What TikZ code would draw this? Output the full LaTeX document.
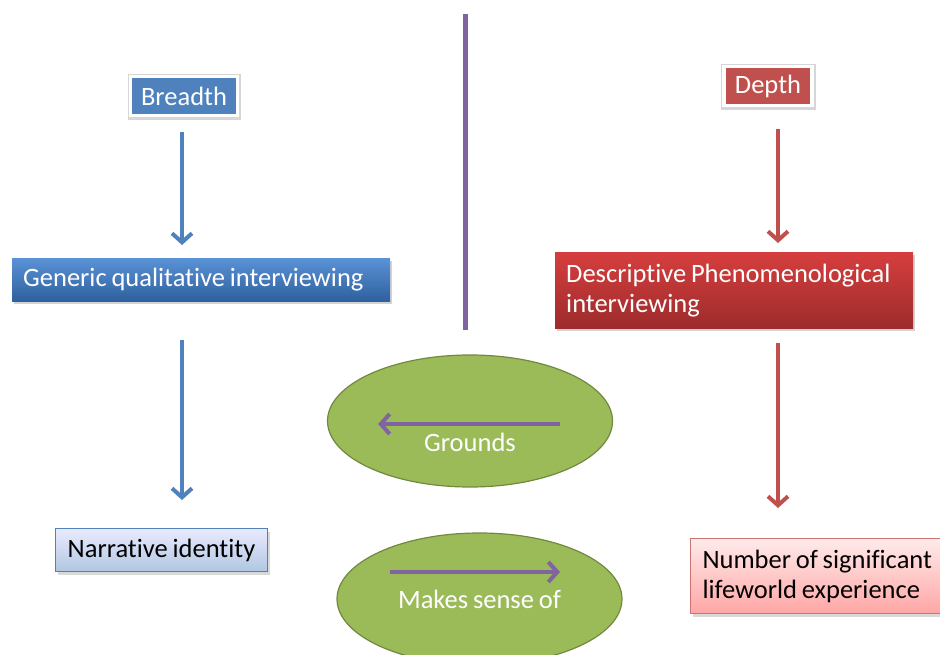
\documentclass[tikz,border=0pt]{standalone}
\usepackage{fontspec}
\setmainfont{Carlito}[Ligatures={NoCommon}, WordSpace=0.8]
\usepackage{tikz}
\usetikzlibrary{arrows.meta,shadows,shapes.geometric}
\definecolor{officeblue}{HTML}{4F81BD}
\definecolor{officered}{HTML}{C0504D}
\definecolor{officegreen}{HTML}{9BBB59}
\definecolor{darkgreen}{HTML}{71893F}
\definecolor{officepurple}{HTML}{8064A2}
\definecolor{genericTop}{HTML}{5A92D6}
\definecolor{genericBot}{HTML}{2F609E}
\definecolor{descrTop}{HTML}{D63E3E}
\definecolor{descrBot}{HTML}{9E2B2B}
\tikzset{
  txt/.style={font=\fontsize{26.5}{30}\selectfont},
  headbox/.style={txt, draw=white, line width=3.5pt, text=white, minimum height=39pt,
    inner sep=2pt, preaction={draw=black!16, line width=6.5pt, transform canvas={xshift=0.5pt,yshift=-1pt}}},
  darkbox/.style={txt, anchor=north west, text=white, align=flush left, inner xsep=11pt,
    drop shadow={shadow xshift=2pt, shadow yshift=-3pt, opacity=0.35}},
  lightbox/.style={txt, anchor=north west, text=black, line width=1pt,
    drop shadow={shadow xshift=2pt, shadow yshift=-3pt, opacity=0.3}},
  oval/.style={ellipse, fill=officegreen, draw=darkgreen, line width=1.2pt,
    minimum width=285pt, minimum height=132pt},
  downarrow/.style={line width=4pt, -{Straight Barb[length=9pt,width=20pt,line width=4pt]}},
  sidearrow/.style={officepurple, line width=4pt, -{Straight Barb[length=9pt,width=20pt,line width=4pt]}},
}
\begin{document}
\begin{tikzpicture}[x=1pt,y=-1pt]
\useasboundingbox (0,0) rectangle (940,655);
\clip (0,0) rectangle (940,655);
\node[headbox, fill=officeblue, minimum width=107pt] (breadth) at (184,96) {Breadth};
\node[headbox, fill=officered, minimum width=88pt] (depth) at (768,86) {Depth};
\node[darkbox, top color=genericTop, bottom color=genericBot,
  minimum width=378pt, minimum height=43pt, text width=356pt] (generic) at (12,258)
  {Generic qualitative interviewing};
\node[darkbox, top color=descrTop, bottom color=descrBot,
  minimum width=358pt, minimum height=76pt, text width=336pt] (descr) at (555,252)
  {Descriptive Phenomenological\\interviewing};
\node[lightbox, draw=officeblue, top color=blue!8, bottom color=officeblue!45!white,
  minimum width=212pt, minimum height=43pt] (narrative) at (55,528) {Narrative identity};
\node[lightbox, draw=officered!80!white, top color=red!8, bottom color=red!35!white,
  minimum width=270pt, minimum height=75pt, text width=246pt, align=flush left, inner xsep=12pt]
  (number) at (690,538) {Number of significant\\lifeworld experience};
\draw[downarrow, officeblue, shorten <=15pt, shorten >=13pt]
  ([xshift=-2pt]breadth.south) -- ([xshift=-2pt]breadth.south |- generic.north);
\draw[downarrow, officeblue, shorten <=39pt, shorten >=28pt]
  ([xshift=-2pt]breadth.south |- generic.south) -- ([xshift=-2pt]breadth.south |- narrative.north);
\draw[downarrow, officered, shorten <=22pt, shorten >=9pt]
  ([xshift=10pt]depth.south) -- ([xshift=10pt]depth.south |- descr.north);
\draw[downarrow, officered, shorten <=15pt, shorten >=30pt]
  ([xshift=10pt]depth.south |- descr.south) -- ([xshift=10pt]depth.south |- number.north);
\coordinate (divtop) at (465.5,14);
\coordinate (divbottom) at (465.5,330);
\draw[officepurple, line width=4.5pt] (divtop) -- (divbottom);
\node[oval] (grounds) at (470,421) {};
\node[oval] (sense) at (479.5,599) {};
\node[txt, text=white] (groundslbl) at ([yshift=-21pt]grounds.center) {Grounds};
\node[txt, text=white] (senselbl) at (sense.center) {Makes sense of};
\draw[sidearrow] ([xshift=90pt,yshift=-3pt]grounds.center) -- ([xshift=-92pt,yshift=-3pt]grounds.center);
\draw[sidearrow] ([xshift=-89.5pt,yshift=27pt]sense.center) -- ([xshift=80.5pt,yshift=27pt]sense.center);
\end{tikzpicture}
\end{document}
